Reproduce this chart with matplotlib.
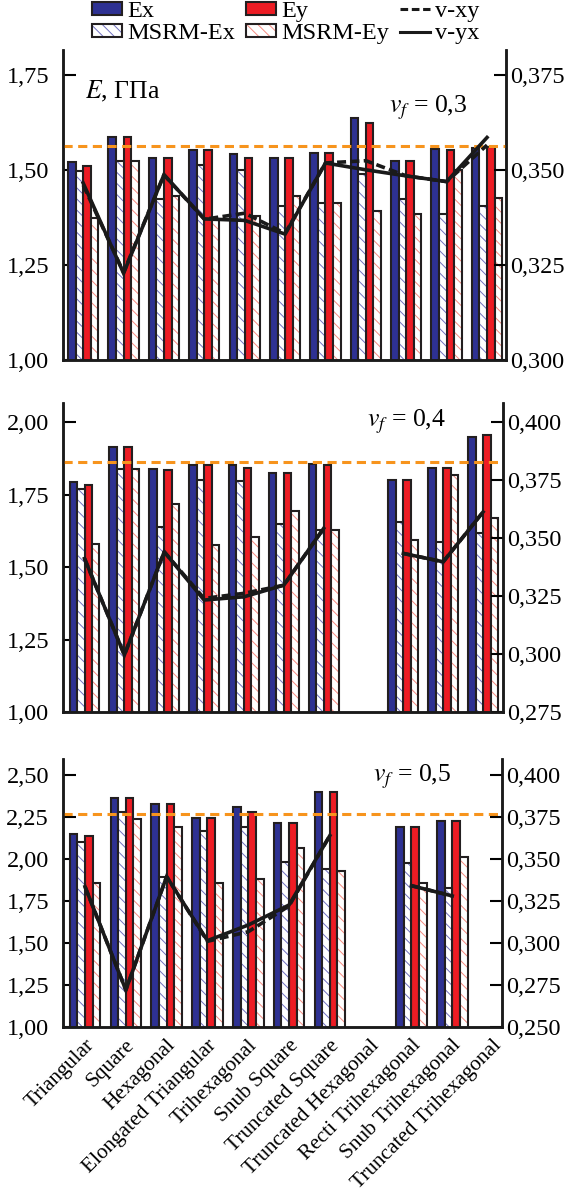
import matplotlib
matplotlib.use("Agg")
import matplotlib.pyplot as plt
import matplotlib.transforms as mtransforms
import numpy as np
from matplotlib.lines import Line2D
from matplotlib.patches import Patch
from matplotlib.ticker import FuncFormatter

nan = np.nan

# Lattice types (x axis)
CATEGORIES = ["Triangular", "Square", "Hexagonal", "Elongated Triangular",
              "Trihexagonal", "Snub Square", "Truncated Square",
              "Truncated Hexagonal", "Recti Trihexagonal",
              "Snub Trihexagonal", "Truncated Trihexagonal"]
VF_LABELS = ["0,3", "0,4", "0,5"]

# vf = 0.3, moduli in GPa
EX_03 = [1.520, 1.585, 1.530, 1.553, 1.542, 1.532, 1.544, 1.635, 1.524, 1.554, 1.558]
MSRM_EX_03 = [1.497, 1.522, 1.424, 1.512, 1.500, 1.404, 1.414, 1.489, 1.424, 1.383, 1.404]
EY_03 = [1.511, 1.585, 1.530, 1.553, 1.530, 1.532, 1.544, 1.624, 1.524, 1.553, 1.560]
MSRM_EY_03 = [1.373, 1.522, 1.432, 1.368, 1.379, 1.432, 1.412, 1.393, 1.383, 1.500, 1.425]
NU_XY_03 = [0.3460, 0.3230, 0.3487, 0.3370, 0.3386, 0.3333, 0.3518, 0.3524, 0.3484, 0.3469, 0.3565]
NU_YX_03 = [0.3465, 0.3228, 0.3487, 0.3371, 0.3367, 0.3331, 0.3518, 0.3500, 0.3484, 0.3469, 0.3585]

# vf = 0.4
EX_04 = [1.794, 1.913, 1.837, 1.852, 1.852, 1.825, 1.855, nan, 1.802, 1.843, 1.947]
MSRM_EX_04 = [1.769, 1.838, 1.637, 1.800, 1.797, 1.648, 1.628, nan, 1.654, 1.585, 1.616]
EY_04 = [1.783, 1.913, 1.835, 1.852, 1.843, 1.825, 1.852, nan, 1.802, 1.843, 1.957]
MSRM_EY_04 = [1.578, 1.838, 1.717, 1.576, 1.605, 1.694, 1.628, nan, 1.595, 1.817, 1.668]
NU_XY_04 = [0.3412, 0.2996, 0.3441, 0.3240, 0.3262, 0.3297, 0.3542, nan, 0.3434, 0.3398, 0.3613]
NU_YX_04 = [0.3412, 0.2996, 0.3441, 0.3233, 0.3247, 0.3297, 0.3542, nan, 0.3434, 0.3398, 0.3613]

# vf = 0.5
EX_05 = [2.147, 2.361, 2.326, 2.246, 2.311, 2.212, 2.397, nan, 2.192, 2.226, nan]
MSRM_EX_05 = [2.099, 2.278, 1.890, 2.167, 2.192, 1.980, 1.938, nan, 1.978, 1.829, nan]
EY_05 = [2.139, 2.361, 2.326, 2.246, 2.278, 2.212, 2.397, nan, 2.192, 2.226, nan]
MSRM_EY_05 = [1.855, 2.238, 2.192, 1.855, 1.881, 2.067, 1.931, nan, 1.859, 2.010, nan]
NU_XY_05 = [0.3335, 0.2720, 0.3395, 0.3010, 0.3067, 0.3220, 0.3639, nan, 0.3341, 0.3280, nan]
NU_YX_05 = [0.3335, 0.2720, 0.3395, 0.3014, 0.3107, 0.3226, 0.3639, nan, 0.3341, 0.3280, nan]

# dashed orange reference level per panel
REF_LEVEL = [1.563, 1.862, 2.268]

# Colours
C_EX = "#2e3192"
C_EY = "#ed1c24"
C_HATCH_EX = "#6f6fbf"
C_HATCH_EY = "#f48a80"
C_EDGE = "#231f20"
C_REF = "#f7941d"

FS = 17.5
FS_X = 15.3
BAR_W = 0.1875

plt.rcParams["font.family"] = ["Liberation Serif", "DejaVu Serif"]
plt.rcParams["mathtext.fontset"] = "stix"
plt.rcParams["hatch.linewidth"] = 0.7


def comma_fmt(decimals):
    return FuncFormatter(lambda v, pos: f"{v:.{decimals}f}".replace(".", ","))


def draw_panel(fig, rect, xlim, ylim, yticks, ylim2, yticks2,
               ex, msrm_ex, ey, msrm_ey, nu_xy, nu_yx, ref, vf_label, vf_pos,
               show_xlabels=False):
    ax = fig.add_axes(rect)
    x = np.arange(len(CATEGORIES))

    # solid bars
    ax.bar(x - 1.5 * BAR_W, ex, BAR_W, color=C_EX, edgecolor=C_EDGE, linewidth=1.5, zorder=2)
    ax.bar(x + 0.5 * BAR_W, ey, BAR_W, color=C_EY, edgecolor=C_EDGE, linewidth=1.5, zorder=2)

    # hatched bars: hatch in light colour, outline dark on top
    for off, vals, hc in [(-0.5, msrm_ex, C_HATCH_EX), (1.5, msrm_ey, C_HATCH_EY)]:
        ax.bar(x + off * BAR_W, vals, BAR_W, color="white", edgecolor=hc,
               hatch="\\\\\\", linewidth=0, zorder=2)
        ax.bar(x + off * BAR_W, vals, BAR_W, color="none", edgecolor=C_EDGE,
               linewidth=1.5, zorder=3)

    ax.axhline(ref, color=C_REF, linestyle=(0, (3, 1.8)), linewidth=2.2, zorder=4)

    ax.set_xlim(*xlim)
    ax.set_ylim(*ylim)
    ax.set_yticks(yticks)
    ax.yaxis.set_major_formatter(comma_fmt(2))
    ax.tick_params(axis="y", direction="in", length=9, width=1.5, labelsize=FS, pad=10)

    ax2 = ax.twinx()
    ax2.plot(x, nu_yx, color="#1a1a1a", linewidth=2.6, solid_joinstyle="miter")
    ax2.plot(x, nu_xy, color="#1a1a1a", linewidth=2.6, linestyle=(0, (2.5, 1.2)))
    ax2.set_ylim(*ylim2)
    ax2.set_yticks(yticks2)
    ax2.yaxis.set_major_formatter(comma_fmt(3))
    ax2.tick_params(axis="y", direction="in", length=9, width=1.5, labelsize=FS, pad=3)

    for a in (ax, ax2):
        a.spines["top"].set_visible(False)
        for s in ("left", "right", "bottom"):
            a.spines[s].set_linewidth(1.8)
            a.spines[s].set_color("#1a1a1a")

    ax.set_xticks([])
    if show_xlabels:
        # rotated category names under the groups
        base = mtransforms.blended_transform_factory(ax.transData, ax.transAxes)
        shift = mtransforms.ScaledTranslation(13 / 100, -9 / 100, fig.dpi_scale_trans)
        for xi, name in zip(x, CATEGORIES):
            ax.text(xi, 0, name, transform=base + shift, rotation=45,
                    ha="right", va="top", fontsize=FS_X)

    ax.text(vf_pos[0], vf_pos[1], r"$v_f$ = " + vf_label, transform=ax.transAxes,
            ha="center", va="center", fontsize=FS + 1)
    return ax


def main():
    fig = plt.figure(figsize=(5.68, 11.97), dpi=100)
    W, H = 568, 1197

    def rect(left, right, bottom, top):
        return [left / W, 1 - bottom / H, (right - left) / W, (bottom - top) / H]

    ax1 = draw_panel(fig, rect(63, 506, 360, 50), (-0.5, 10.47), (1.0, 1.815),
                     [1.0, 1.25, 1.5, 1.75], (0.3, 0.3815), [0.3, 0.325, 0.35, 0.375],
                     EX_03, MSRM_EX_03, EY_03, MSRM_EY_03, NU_XY_03, NU_YX_03,
                     REF_LEVEL[0], VF_LABELS[0], (0.824, 0.813))
    ax1.text(0.05, 0.865, r"$E$, ГПа", transform=ax1.transAxes, ha="left", va="center",
             fontsize=FS + 1)

    draw_panel(fig, rect(63, 503, 712, 403), (-0.54, 10.5), (1.0, 2.066),
               [1.0, 1.25, 1.5, 1.75, 2.0], (0.275, 0.4083),
               [0.275, 0.3, 0.325, 0.35, 0.375, 0.4],
               EX_04, MSRM_EX_04, EY_04, MSRM_EY_04, NU_XY_04, NU_YX_04,
               REF_LEVEL[1], VF_LABELS[1], (0.78, 0.939))

    draw_panel(fig, rect(63, 502, 1027, 759), (-0.54, 10.22), (1.0, 2.595),
               [1.0, 1.25, 1.5, 1.75, 2.0, 2.25, 2.5], (0.25, 0.4095),
               [0.25, 0.275, 0.3, 0.325, 0.35, 0.375, 0.4],
               EX_05, MSRM_EX_05, EY_05, MSRM_EY_05, NU_XY_05, NU_YX_05,
               REF_LEVEL[2], VF_LABELS[2], (0.795, 0.933), show_xlabels=True)

    # Legend above the top panel
    handles = [
        Patch(facecolor=C_EX, edgecolor=C_EDGE, linewidth=1.5),
        (Patch(facecolor="white", edgecolor=C_HATCH_EX, hatch="\\\\\\", linewidth=0),
         Patch(facecolor="none", edgecolor=C_EDGE, linewidth=1.5)),
        Patch(facecolor=C_EY, edgecolor=C_EDGE, linewidth=1.5),
        (Patch(facecolor="white", edgecolor=C_HATCH_EY, hatch="\\\\\\", linewidth=0),
         Patch(facecolor="none", edgecolor=C_EDGE, linewidth=1.5)),
        Line2D([], [], color="#1a1a1a", linewidth=2.2, linestyle=(0, (2.5, 1.2))),
        Line2D([], [], color="#1a1a1a", linewidth=2.2),
    ]
    labels = ["Ex", "MSRM-Ex", "Ey", "MSRM-Ey", "v-xy", "v-yx"]
    fig.legend(handles, labels, loc="upper left", bbox_to_anchor=(92 / W, 1 - 1 / H),
               ncol=3, frameon=False, fontsize=FS, borderaxespad=0, borderpad=0,
               handlelength=1.25, handleheight=0.45, handletextpad=0.2,
               columnspacing=0.45, labelspacing=0.05)

    fig.savefig("out.png", dpi=100)
    plt.close(fig)


if __name__ == "__main__":
    main()
